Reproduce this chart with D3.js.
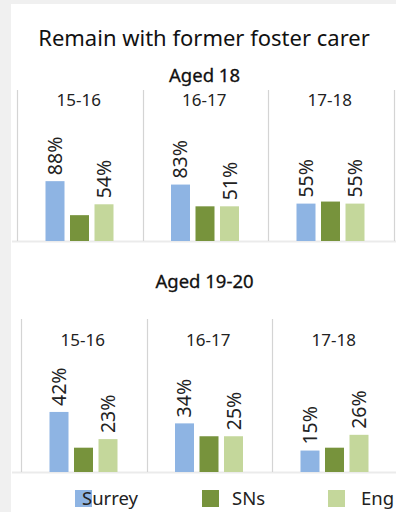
<!DOCTYPE html>
<html>
<head>
<meta charset="utf-8">
<script src="https://cdn.jsdelivr.net/npm/d3@7"></script>
<style>
  html, body { margin: 0; padding: 0; background: #f0f0f0; }
  svg { display: block; }
</style>
</head>
<body>
<svg id="chart" width="396" height="512"></svg>
<script>
// Care leavers remaining with their former foster carer, by period
const periods = ["15-16", "16-17", "17-18"];
const seriesNames = ["Surrey", "SNs", "Eng"];
const seriesColors = ["#8eb4e3", "#77933c", "#c4d79b"];
const labelledSeries = ["Surrey", "Eng"];

const surrey18 = [88, 83, 55];
const sns18 = [38, 51, 58];
const eng18 = [54, 51, 55];

const surrey1920 = [42, 34, 15];
const sns1920 = [17, 25, 17];
const eng1920 = [23, 25, 26];

const W = 396, H = 512;
const svg = d3.select("#chart");

// page background and white card
svg.append("rect").attr("width", W).attr("height", H).attr("fill", "#f0f0f0");
svg.append("rect").attr("x", 11).attr("y", 4).attr("width", W - 11).attr("height", H - 4).attr("fill", "#ffffff");

const font = "'Noto Sans', 'Open Sans', sans-serif";

svg.append("text")
  .attr("x", 204).attr("y", 46)
  .attr("text-anchor", "middle")
  .attr("font-family", font)
  .attr("font-size", 22)
  .attr("fill", "#111")
  .text("Remain with former foster carer");

const color = d3.scaleOrdinal(seriesNames, seriesColors);

function drawPanel(opts) {
  const { title, titleY, left, top, baseline, pxPer100, headerY, values } = opts;
  const colWidth = 125.5;
  const g = svg.append("g");

  g.append("text")
    .attr("x", 204.5).attr("y", titleY)
    .attr("text-anchor", "middle")
    .attr("font-family", font)
    .attr("font-size", 18.5)
    .attr("fill", "#111")
    .attr("stroke", "#111")
    .attr("stroke-width", 0.3)
    .text(title);

  const xCol = d3.scaleBand(periods, [left, left + colWidth * periods.length]).padding(0);
  const xBar = d3.scaleBand(seriesNames, [28.5, 96.5]).paddingInner(0.2245).paddingOuter(0);
  const y = d3.scaleLinear([0, 100], [baseline, baseline - pxPer100]);

  // baseline strip
  g.append("line")
    .attr("x1", 12).attr("x2", W)
    .attr("y1", baseline + 0.5).attr("y2", baseline + 0.5)
    .attr("stroke", "#ebebeb").attr("stroke-width", 2);

  // column dividers
  const edges = periods.map(p => xCol(p)).concat([xCol(periods[periods.length - 1]) + colWidth]);
  g.selectAll("line.div").data(edges).join("line")
    .attr("class", "div")
    .attr("x1", d => Math.round(d) + 0.5).attr("x2", d => Math.round(d) + 0.5)
    .attr("y1", top).attr("y2", baseline)
    .attr("stroke", "#d4d4d4").attr("stroke-width", 1.2);

  periods.forEach((p, i) => {
    const cg = g.append("g").attr("transform", `translate(${xCol(p)},0)`);
    cg.append("text")
      .attr("x", colWidth / 2 - 1).attr("y", headerY)
      .attr("text-anchor", "middle")
      .attr("font-family", font)
      .attr("font-size", 17)
      .attr("fill", "#222")
      .text(p);

    const rows = seriesNames.map((s, k) => ({ s, v: values[k][i] }));
    cg.selectAll("rect").data(rows).join("rect")
      .attr("x", d => xBar(d.s))
      .attr("width", xBar.bandwidth())
      .attr("y", d => y(d.v))
      .attr("height", d => y(0) - y(d.v))
      .attr("fill", d => color(d.s));

    cg.selectAll("text.val").data(rows.filter(d => labelledSeries.includes(d.s))).join("text")
      .attr("class", "val")
      .attr("transform", d => `translate(${xBar(d.s) + xBar.bandwidth() / 2 + 7},${y(d.v) - 6}) rotate(-90)`)
      .attr("font-family", font)
      .attr("font-size", 19.5)
      .attr("fill", "#222")
      .text(d => d.v + "%");
  });
}

drawPanel({
  title: "Aged 18", titleY: 82,
  left: 17, top: 90, baseline: 241, pxPer100: 68, headerY: 106,
  values: [surrey18, sns18, eng18]
});

drawPanel({
  title: "Aged 19-20", titleY: 288,
  left: 21, top: 319, baseline: 472, pxPer100: 143, headerY: 346,
  values: [surrey1920, sns1920, eng1920]
});

// legend
const legendX = [75, 202, 328];
const legendTextX = [82, 232, 361];
const lg = svg.append("g");
seriesNames.forEach((s, i) => {
  lg.append("rect")
    .attr("x", legendX[i]).attr("y", 490)
    .attr("width", 17).attr("height", 17)
    .attr("fill", color(s));
  lg.append("text")
    .attr("x", legendTextX[i]).attr("y", 505)
    .attr("font-family", font)
    .attr("font-size", 18.5)
    .attr("fill", "#222")
    .text(s);
});
</script>
</body>
</html>
